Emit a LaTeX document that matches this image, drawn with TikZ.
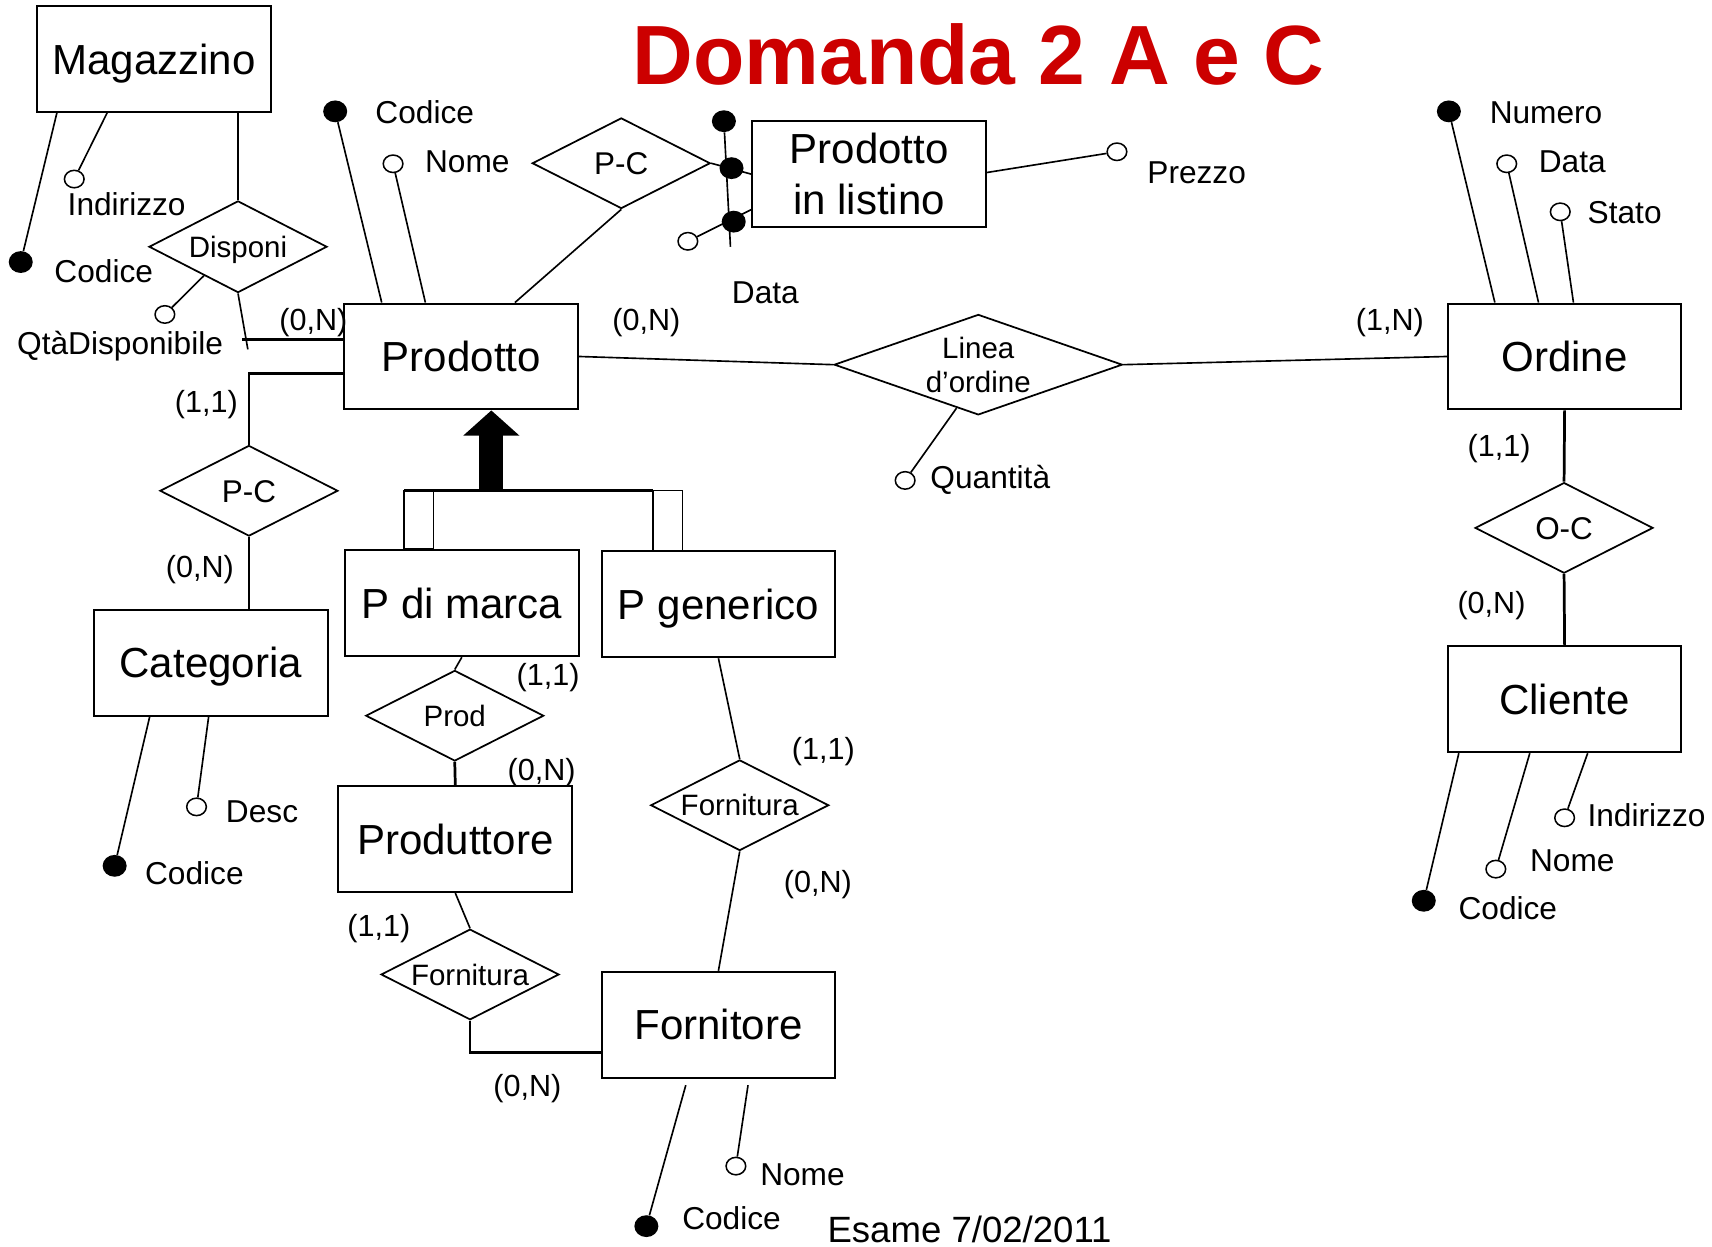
\documentclass[tikz,border=0pt]{standalone}
\usepackage{fontspec}
\setmainfont{Liberation Sans}
\usetikzlibrary{shapes.geometric,arrows.meta,calc}
\definecolor{titlered}{RGB}{204,0,0}
\begin{document}
\begin{tikzpicture}[x=1pt,y=-1pt,
  entbox/.style={draw, line width=1.8pt, minimum width=214pt, minimum height=97pt, inner sep=0pt, font=\fontsize{38.5}{47}\selectfont},
  ent/.style={entbox, text height=27.7pt, text depth=0pt},
  relbase/.style={diamond, draw, line width=1.6pt, minimum width=163pt, minimum height=83pt, inner sep=0pt, shape aspect=2, font=\fontsize{27}{31}\selectfont},
  rel/.style={relbase, text height=19.4pt, text depth=0pt},
  relbig/.style={relbase, font=\fontsize{28.8}{34}\selectfont, text height=20.6pt, text depth=0pt},
  attr/.style={inner sep=0pt, font=\fontsize{29}{35}\selectfont, text height=20.8pt, text depth=0pt},
  card/.style={inner sep=0pt, font=\fontsize{28}{34}\selectfont, text height=20.1pt, text depth=0pt},
  oatt/.style={ellipse, draw, line width=1.4pt, fill=white, minimum width=18pt, minimum height=16pt, inner sep=0pt},
  katt/.style={ellipse, fill=black, minimum width=22pt, minimum height=20pt, inner sep=0pt},
  ln/.style={line width=1.5pt},
  lnb/.style={line width=2.5pt}
]
\useasboundingbox (0,0) rectangle (1568,1142);
\fill[white] (0,0) rectangle (1568,1142);

% title
\node[inner sep=0pt, font=\fontsize{77}{80}\selectfont\bfseries, text=titlered, text height=55.1pt, text depth=0pt] (title) at (896,49.5) {Domanda 2 A e C};
\node[inner sep=0pt, font=\fontsize{33.5}{40}\selectfont, text height=24pt, text depth=0pt] (esame) at (888,1126) {Esame 7/02/2011};

% entities
\node[ent] (mag) at (141,54) {Magazzino};
\node[ent] (prod) at (422.5,326.5) {Prodotto};
\node[entbox, align=center] (listino) at (796,159.5) {Prodotto\\in listino};
\node[ent] (ord) at (1433,326.5) {Ordine};
\node[ent] (cat) at (193,607) {Categoria};
\node[ent] (marca) at (423,552.5) {P di marca};
\node[ent] (gen) at (658,553.5) {P generico};
\node[ent] (prodt) at (417,768.5) {Produttore};
\node[ent] (forn) at (658,938.5) {Fornitore};
\node[ent] (cli) at (1433,640.5) {Cliente};

% relationships
\node[rel, minimum height=84pt] (disp) at (218,226) {Disponi};
\node[relbig] (pc1) at (569,149.5) {P-C};
\node[relbig] (pc2) at (228,449.5) {P-C};
\node[relbase, minimum width=264pt, minimum height=92pt, shape aspect=2.87, align=center] (linea) at (896,334) {Linea\\d’ordine};
\node[relbig] (oc) at (1432.5,483.5) {O-C};
\node[rel] (prel) at (416.5,655.5) {Prod};
\node[rel] (forn1) at (677.5,737.5) {Fornitura};
\node[rel] (forn2) at (430.5,892.5) {Fornitura};

% attributes
\node[katt] (magK) at (19,240) {};
\node[attr] (magKl) at (95,248) {Codice};
\node[oatt] (magI) at (68,164) {};
\node[attr] (magIl) at (116,187) {Indirizzo};

\node[katt] (prodK) at (307,102) {};
\node[attr] (prodKl) at (389,103) {Codice};
\node[oatt] (prodN) at (360,150) {};
\node[attr] (prodNl) at (428,148) {Nome};

\node[oatt] (qta) at (151,288) {};
\node[attr] (qtal) at (110,314) {QtàDisponibile};

\node[oatt] (prezzo) at (1023,139) {};
\node[attr] (prezzol) at (1096,158) {Prezzo};
\node[oatt] (ldata) at (630,221) {};
\node[attr] (ldatal) at (701,268) {Data};
\node[katt] (idtop) at (663,111) {};
\node[katt] (id1) at (670,154) {};
\node[katt] (id2) at (672,203) {};
\coordinate (idbot) at (669,226);

\node[katt] (ordK) at (1327,102) {};
\node[attr] (ordKl) at (1416,103) {Numero};
\node[oatt] (ordD) at (1380,150) {};
\node[attr] (ordDl) at (1440,148) {Data};
\node[oatt] (ordS) at (1429,194) {};
\node[attr] (ordSl) at (1488,194) {Stato};

\node[oatt] (quant) at (829,440) {};
\node[attr] (quantl) at (907,437) {Quantità};

\node[katt] (cliK) at (1304,825) {};
\node[attr] (cliKl) at (1381,832) {Codice};
\node[oatt] (cliN) at (1370,796) {};
\node[attr] (cliNl) at (1440,788) {Nome};
\node[oatt] (cliI) at (1433,749) {};
\node[attr] (cliIl) at (1508,747) {Indirizzo};

\node[katt] (catK) at (105,793) {};
\node[attr] (catKl) at (178,800) {Codice};
\node[oatt] (catD) at (180,739) {};
\node[attr] (catDl) at (240,743) {Desc};

\node[katt] (fornK) at (592,1123) {};
\node[attr] (fornKl) at (670,1116) {Codice};
\node[oatt] (fornN) at (674,1068) {};
\node[attr] (fornNl) at (735,1075) {Nome};

% cardinalities
\node[card] (c1) at (287,293) {(0,N)};
\node[card] (c2) at (592,293) {(0,N)};
\node[card] (c3) at (1273,293) {(1,N)};
\node[card] (c4) at (189,368) {(1,1)};
\node[card] (c5) at (183,519) {(0,N)};
\node[card] (c6) at (502,618) {(1,1)};
\node[card] (c7) at (496,705) {(0,N)};
\node[card] (c8) at (754,686) {(1,1)};
\node[card] (c9) at (749,807) {(0,N)};
\node[card] (c10) at (347,848) {(1,1)};
\node[card] (c11) at (483,994) {(0,N)};
\node[card] (c12) at (1373,408) {(1,1)};
\node[card] (c13) at (1366,552) {(0,N)};

% connectors
\coordinate (dispEnd) at (227,320);
\coordinate (dispH) at (222,311);
\draw[lnb] ([xshift=77pt]mag.south) -- (disp.north);
\draw[ln] ([xshift=19pt]mag.south west) -- (magK);
\draw[ln] ([xshift=65pt]mag.south west) -- (magI);
\draw[ln] ($(disp.west)!0.62!(disp.south)$) -- (qta);
\draw[ln] (disp.south) -- (dispEnd);
\draw[lnb] (dispH) -- ([yshift=15.5pt]prod.west);
\draw[ln] ([xshift=35pt]prod.north west) -- (prodK);
\draw[ln] ([xshift=75pt]prod.north west) -- (prodN);
\draw[ln] ([xshift=157pt]prod.north west) -- (pc1.south);
\draw[ln] (pc1.east) -- (listino.west);
\draw[ln] ([yshift=1.5pt]listino.east) -- (prezzo);
\draw[ln] ([yshift=-32.5pt]listino.west) -- (ldata);
\draw[ln] (idtop) -- (idbot);
\draw[lnb] ([yshift=-15.5pt]prod.west) -| (pc2.north);
\draw[ln] (pc2.south) -- (pc2.south |- cat.north);
\draw[ln] ([xshift=52pt]cat.south west) -- (catK);
\draw[ln] ([xshift=106pt]cat.south west) -- (catD);
\draw[ln] (prod.east) -- (linea.west);
\draw[ln] (linea.east) -- (ord.west);
\draw[ln] ($(linea.south)!0.15!(linea.west)$) -- (quant);
\draw[ln] ([xshift=44pt]ord.north west) -- (ordK);
\draw[ln] ([xshift=84pt]ord.north west) -- (ordD);
\draw[ln] ([xshift=116pt]ord.north west) -- (ordS);
\draw[lnb] (ord.south) -- (oc.north);
\draw[lnb] (oc.south) -- (cli.north);
\draw[ln] ([xshift=11pt]cli.south west) -- (cliK);
\draw[ln] ([xshift=76pt]cli.south west) -- (cliN);
\draw[ln] ([xshift=129pt]cli.south west) -- (cliI);

% ISA hierarchy
\draw[ln] ([xshift=55pt]marca.north west) rectangle ([xshift=82pt,yshift=54pt]marca.north west);
\draw[ln] ([xshift=48pt]gen.north west) rectangle ([xshift=75pt,yshift=55pt]gen.north west);
\draw[line width=3pt] ([xshift=55pt,yshift=54pt]marca.north west) -- ([xshift=48pt,yshift=55pt]gen.north west);
\coordinate (isaBase) at (450,450);
\draw[line width=22pt, -{Triangle[width=50pt,length=23pt]}] (isaBase) -- ([xshift=27.5pt]prod.south);

\draw[ln] (marca.south) -- (prel.north);
\draw[lnb] (prel.south) -- (prodt.north);
\draw[ln] (prodt.south) -- (forn2.north);
\draw[lnb] (forn2.south) |- ([yshift=-25.5pt]forn.west);
\draw[ln] (gen.south) -- (forn1.north);
\draw[ln] (forn1.south) -- (forn.north);
\draw[ln] ([xshift=78pt,yshift=-6pt]forn.south west) -- (fornK);
\draw[ln] ([xshift=135pt,yshift=-6pt]forn.south west) -- (fornN);
\end{tikzpicture}
\end{document}
